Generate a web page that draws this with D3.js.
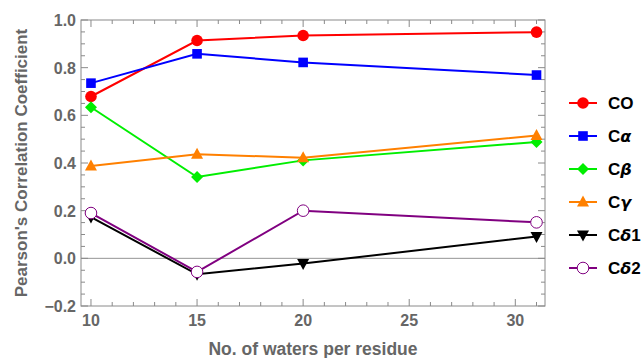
<!DOCTYPE html>
<html><head><meta charset="utf-8">
<script src="https://cdn.jsdelivr.net/npm/d3@7"></script>
<style>body{margin:0;background:#fff}svg{display:block}</style>
</head><body>
<svg id="c" width="644" height="358"></svg>
<script>
const xValues = [10, 15, 20, 31];
const seriesNames = ["CO", "Cα", "Cβ", "Cγ", "Cδ1", "Cδ2"];
const coValues    = [0.679, 0.914, 0.935, 0.949];
const caValues    = [0.735, 0.858, 0.822, 0.769];
const cbValues    = [0.634, 0.341, 0.411, 0.488];
const cgValues    = [0.387, 0.437, 0.422, 0.515];
const cd1Values   = [0.173, -0.067, -0.022, 0.092];
const cd2Values   = [0.190, -0.057, 0.200, 0.151];
const xTickLabels = [10, 15, 20, 25, 30];
const yTickLabels = [-0.2, 0.0, 0.2, 0.4, 0.6, 0.8, 1.0];

const seriesValues = [coValues, caValues, cbValues, cgValues, cd1Values, cd2Values];
const colors = ["#ff0000", "#0000ff", "#00ee00", "#ff8000", "#000000", "#800080"];
const shapes = ["circle", "square", "diamond", "up", "down", "open"];

const svg = d3.select("#c");
const L = 81, R = 545, T = 20, B = 306;
const x = d3.scaleLinear().domain([9.53, 31.4]).range([L, R]);
const y = d3.scaleLinear().domain([-0.2, 1.0]).range([B, T]);
const frameColor = "#8a8a8a", textGray = "#666";
const FONT = "Liberation Sans, Arial, sans-serif";

// zero line
svg.append("line").attr("x1", L).attr("x2", R).attr("y1", y(0)).attr("y2", y(0))
  .attr("stroke", "#777").attr("stroke-width", 0.8);

// frame
svg.append("rect").attr("x", L).attr("y", T).attr("width", R - L).attr("height", B - T)
  .attr("fill", "none").attr("stroke", frameColor).attr("stroke-width", 1);

// ticks
const g = svg.append("g").attr("stroke", frameColor).attr("stroke-width", 1);
const xMinor = d3.range(10, 32, 1);
xMinor.forEach(v => {
  const major = v % 5 === 0;
  const len = major ? 7 : 4;
  g.append("line").attr("x1", x(v)).attr("x2", x(v)).attr("y1", B).attr("y2", B - len);
  g.append("line").attr("x1", x(v)).attr("x2", x(v)).attr("y1", T).attr("y2", T + len);
});
const yMinor = d3.range(-0.2, 1.0001, 0.05).map(v => Math.round(v * 100) / 100);
yMinor.forEach(v => {
  const major = Math.abs(Math.round(v * 100) % 20) === 0;
  const len = major ? 7 : 4;
  g.append("line").attr("y1", y(v)).attr("y2", y(v)).attr("x1", L).attr("x2", L + len);
  g.append("line").attr("y1", y(v)).attr("y2", y(v)).attr("x1", R).attr("x2", R - len);
});

// tick labels
svg.append("g").selectAll("text").data(xTickLabels).join("text")
  .attr("x", d => x(d)).attr("y", B + 20).attr("text-anchor", "middle")
  .attr("font-family", FONT).attr("font-weight", "bold")
  .attr("font-size", 16).attr("fill", textGray).text(d => d);
svg.append("g").selectAll("text").data(yTickLabels).join("text")
  .attr("x", L - 5).attr("y", d => y(d) + 6).attr("text-anchor", "end")
  .attr("font-family", FONT).attr("font-weight", "bold")
  .attr("font-size", 16).attr("fill", textGray).text(d => (d < 0 ? "\u2212" : "") + Math.abs(d).toFixed(1));

// axis labels
svg.append("text").attr("x", 313).attr("y", 355).attr("text-anchor", "middle")
  .attr("font-family", FONT).attr("font-weight", "bold")
  .attr("font-size", 17.5).attr("fill", textGray).text("No. of waters per residue");
svg.append("text").attr("transform", `translate(26.5,${(T + B) / 2}) rotate(-90)`).attr("text-anchor", "middle")
  .attr("font-family", FONT).attr("font-weight", "bold")
  .attr("font-size", 17).attr("fill", textGray).text("Pearson's Correlation Coefficient");

function drawMarker(sel, shape, color, cx, cy) {
  if (shape === "circle") {
    sel.append("circle").attr("cx", cx).attr("cy", cy).attr("r", 5.8).attr("fill", color);
  } else if (shape === "square") {
    sel.append("rect").attr("x", cx - 4.8).attr("y", cy - 4.8).attr("width", 9.6).attr("height", 9.6).attr("fill", color);
  } else if (shape === "diamond") {
    sel.append("path").attr("d", `M${cx},${cy - 6}L${cx + 6},${cy}L${cx},${cy + 6}L${cx - 6},${cy}Z`).attr("fill", color);
  } else if (shape === "up") {
    sel.append("path").attr("d", `M${cx},${cy - 6.5}L${cx + 6},${cy + 4.5}L${cx - 6},${cy + 4.5}Z`).attr("fill", color);
  } else if (shape === "down") {
    sel.append("path").attr("d", `M${cx},${cy + 6.5}L${cx + 6},${cy - 4.5}L${cx - 6},${cy - 4.5}Z`).attr("fill", color);
  } else {
    sel.append("circle").attr("cx", cx).attr("cy", cy).attr("r", 5.8).attr("fill", "#fff").attr("stroke", color).attr("stroke-width", 1);
  }
}

const line = d3.line().x((d, i) => x(xValues[i])).y(d => y(d));
seriesValues.forEach((vals, k) => {
  const sg = svg.append("g");
  sg.append("path").attr("d", line(vals)).attr("fill", "none").attr("stroke", colors[k]).attr("stroke-width", 2);
  vals.forEach((v, i) => drawMarker(sg, shapes[k], colors[k], x(xValues[i]), y(v)));
});

// legend
const legendY = d3.scaleLinear().domain([0, 5]).range([103, 268]);
seriesNames.forEach((name, k) => {
  const ly = legendY(k);
  const lg = svg.append("g");
  lg.append("line").attr("x1", 569).attr("x2", 597).attr("y1", ly).attr("y2", ly).attr("stroke", colors[k]).attr("stroke-width", 2);
  drawMarker(lg, shapes[k], colors[k], 583, ly);
  const t = lg.append("text").attr("x", 608).attr("y", ly + 6)
    .attr("font-family", FONT).attr("font-weight", "bold")
    .attr("font-size", 17).attr("fill", "#000");
  t.append("tspan").text(name[0]);
  const rest = name.slice(1);
  if (name === "CO") t.append("tspan").text("O");
  else {
    t.append("tspan").attr("font-style", "italic").attr("font-family", "DejaVu Sans, sans-serif").attr("font-size", 16).text(rest[0]);
    if (rest.length > 1) t.append("tspan").text(rest.slice(1));
  }
});
</script>
</body></html>
